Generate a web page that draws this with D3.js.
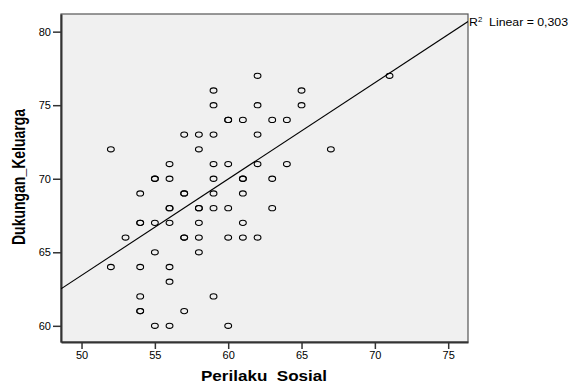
<!DOCTYPE html>
<html lang="en">
<head>
<meta charset="UTF-8">
<title>Perilaku Sosial vs Dukungan_Keluarga</title>
<script src="https://cdn.jsdelivr.net/npm/d3@7/dist/d3.min.js"></script>
<style>
  body { margin: 0; padding: 0; background: #fff; overflow: hidden; }
  text { font-family: "Liberation Sans", Arial, sans-serif; fill: #000; }
  .tick text { font-size: 11px; }
  .axis-title { font-size: 14px; font-weight: bold; }
</style>
</head>
<body>
<div id="chart"></div>
<script>
// observations (Perilaku Sosial, Dukungan_Keluarga)
const perilakuSosial = [
  52, 52, 53, 54, 54, 54, 54, 54, 54, 54,
  55, 55, 55, 55, 55, 56, 56, 56, 56, 56,
  56, 56, 56, 57, 57, 57, 57, 57, 57, 58,
  58, 58, 58, 58, 58, 58, 59, 59, 59, 59,
  59, 59, 59, 59, 60, 60, 60, 60, 60, 60,
  61, 61, 61, 61, 61, 61, 62, 62, 62, 62,
  62, 63, 63, 63, 64, 64, 65, 65, 67, 71
];
const dukunganKeluarga = [
  72, 64, 66, 69, 67, 67, 64, 62, 61, 61,
  70, 70, 67, 65, 60, 71, 70, 68, 68, 67,
  64, 63, 60, 73, 69, 69, 66, 66, 61, 73,
  72, 68, 68, 67, 66, 65, 76, 75, 73, 71,
  70, 69, 68, 62, 74, 74, 71, 68, 66, 60,
  74, 70, 70, 69, 67, 66, 77, 75, 73, 71,
  66, 74, 70, 68, 74, 71, 76, 75, 72, 77
];

// fit line as drawn in the output
const fitSlope = 0.655;
const fitIntercept = 30.68;
const rSquared = "0,303";

const xTicks = [50, 55, 60, 65, 70, 75];
const yTicks = [60, 65, 70, 75, 80];
const xDomain = [48.6, 76.35];
const yDomain = [58.9, 81.2];

const width = 568, height = 383;
const plot = { left: 61, right: 468, top: 14, bottom: 342 };

const svg = d3.select("#chart").append("svg")
  .attr("width", width)
  .attr("height", height);

const x = d3.scaleLinear().domain(xDomain).range([plot.left, plot.right]);
const y = d3.scaleLinear().domain(yDomain).range([plot.bottom, plot.top]);

// plot background
svg.append("rect")
  .attr("x", plot.left)
  .attr("y", plot.top)
  .attr("width", plot.right - plot.left)
  .attr("height", plot.bottom - plot.top)
  .attr("fill", "#f0f0f0")
  .attr("stroke", "#555")
  .attr("stroke-width", 1.2);

// axes
const xAxis = svg.append("g")
  .attr("transform", `translate(0,${plot.bottom})`)
  .call(d3.axisBottom(x).tickValues(xTicks).tickSize(7).tickPadding(2).tickSizeOuter(0));
const yAxis = svg.append("g")
  .attr("transform", `translate(${plot.left},0)`)
  .call(d3.axisLeft(y).tickValues(yTicks).tickSize(8).tickPadding(2).tickSizeOuter(0));

[xAxis, yAxis].forEach(g => {
  g.select(".domain").attr("stroke", "#333").attr("stroke-width", 2);
  g.selectAll(".tick line").attr("stroke", "#333").attr("stroke-width", 1.5);
  g.selectAll(".tick text").attr("fill", "#222");
});

// fit line clipped to plot area
svg.append("clipPath").attr("id", "clip")
  .append("rect")
  .attr("x", plot.left).attr("y", plot.top)
  .attr("width", plot.right - plot.left).attr("height", plot.bottom - plot.top);

svg.append("line")
  .attr("clip-path", "url(#clip)")
  .attr("x1", x(xDomain[0]))
  .attr("y1", y(fitIntercept + fitSlope * xDomain[0]))
  .attr("x2", x(xDomain[1]))
  .attr("y2", y(fitIntercept + fitSlope * xDomain[1]))
  .attr("stroke", "#000")
  .attr("stroke-width", 1.1);

// points
svg.append("g")
  .selectAll("ellipse")
  .data(d3.range(perilakuSosial.length))
  .join("ellipse")
  .attr("cx", i => x(perilakuSosial[i]))
  .attr("cy", i => y(dukunganKeluarga[i]))
  .attr("rx", 3.4)
  .attr("ry", 2.6)
  .attr("fill", "none")
  .attr("stroke", "#000")
  .attr("stroke-width", 1.1);

// R² label (text in the original is a bit stretched sideways)
const r2 = svg.append("text")
  .attr("transform", `translate(${plot.right + 1},26) scale(1.12,1)`)
  .attr("font-size", 11)
  .attr("xml:space", "preserve");
r2.append("tspan").text("R");
r2.append("tspan").attr("font-size", 7).attr("dy", -4).text("2");
r2.append("tspan").attr("dy", 4).text("  Linear = " + rSquared);

// axis titles
svg.append("text")
  .attr("class", "axis-title")
  .attr("transform", "translate(264,381) scale(1.22,1)")
  .attr("text-anchor", "middle")
  .attr("xml:space", "preserve")
  .text("Perilaku  Sosial");

svg.append("text")
  .attr("class", "axis-title")
  .attr("transform", "translate(25,177) scale(1.25,1) rotate(-90)")
  .attr("text-anchor", "middle")
  .text("Dukungan_Keluarga");
</script>
</body>
</html>
